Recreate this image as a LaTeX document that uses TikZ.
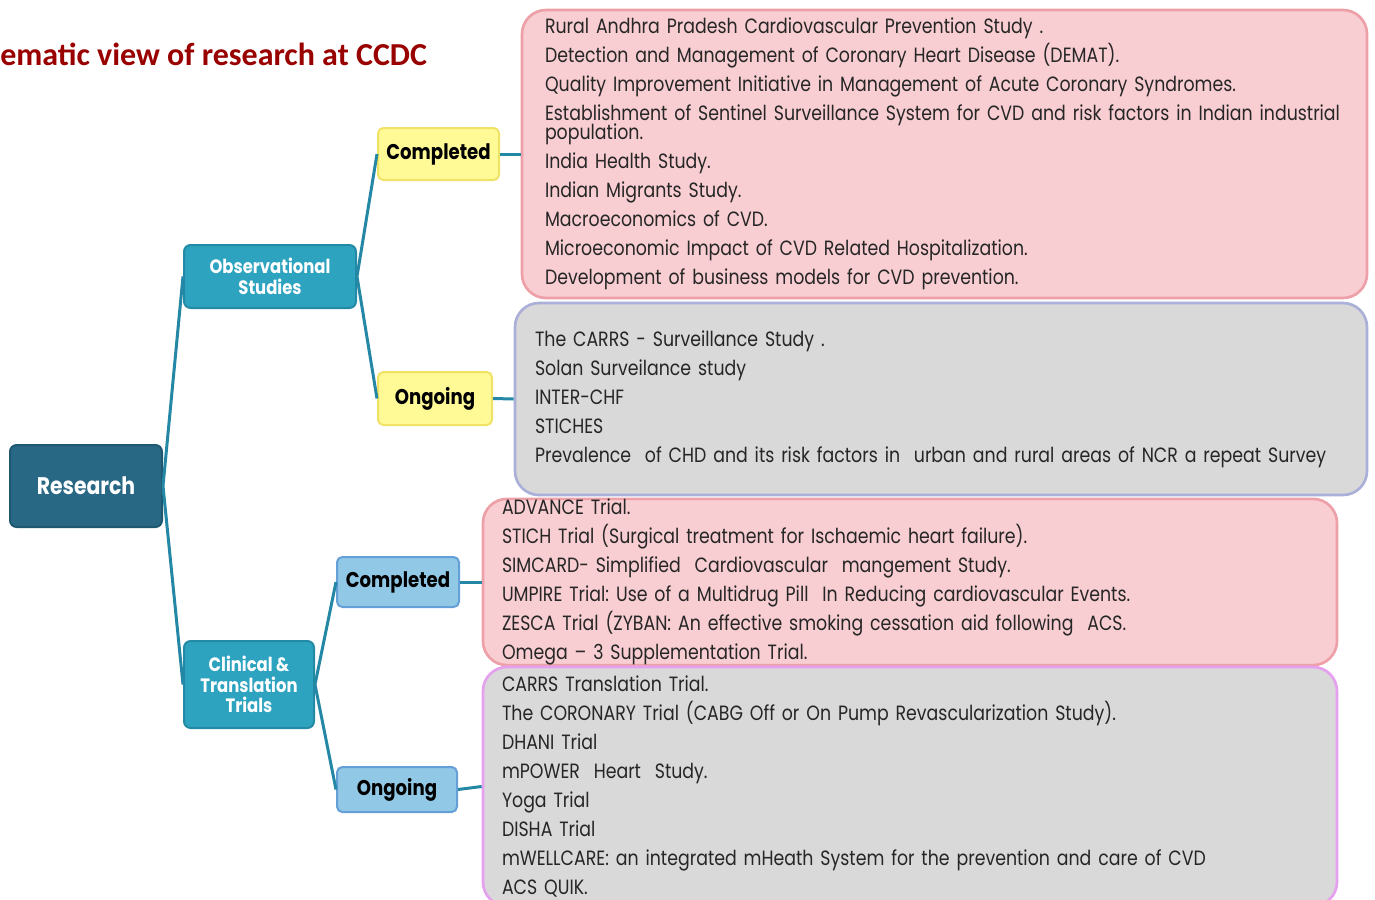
\documentclass[tikz,border=0pt]{standalone}
\usepackage{fontspec}
\setmainfont{Poppins}
\newfontfamily\listfont{Poppins}[FakeStretch=0.84]
\newfontfamily\labelfont{Poppins}[FakeStretch=0.85]
\newfontfamily\titlefont{Carlito}
\definecolor{titlered}{RGB}{153,0,0}
\definecolor{researchfill}{RGB}{41,104,133}
\definecolor{researchline}{RGB}{30,88,112}
\definecolor{studyfill}{RGB}{46,163,192}
\definecolor{studyline}{RGB}{34,138,164}
\definecolor{yellowfill}{RGB}{255,250,150}
\definecolor{yellowline}{RGB}{240,226,100}
\definecolor{bluefill}{RGB}{145,200,230}
\definecolor{blueline}{RGB}{100,160,215}
\definecolor{pinkfill}{RGB}{248,206,210}
\definecolor{pinkline}{RGB}{238,160,168}
\definecolor{greyfill}{RGB}{217,217,217}
\definecolor{lavline}{RGB}{170,176,215}
\definecolor{violetline}{RGB}{230,160,240}
\definecolor{linkteal}{RGB}{35,135,165}

\begin{document}
\begin{tikzpicture}[x=0.75pt,y=0.75pt,yscale=-1,xscale=1,
  topbox/.style={draw, line width=1.5pt, rounded corners=5pt, inner sep=0pt, text=white, align=center},
  statebox/.style={draw, line width=1.5pt, rounded corners=4pt, inner sep=0pt, text=black, align=center,
    font=\labelfont\bfseries\fontsize{16}{19}\selectfont},
  listbox/.style={draw, line width=2pt, rounded corners=18pt, inner ysep=0pt, align=left, text=black!85,
    font=\listfont\fontsize{15.5}{21.75}\selectfont},
  link/.style={draw=linkteal, line width=2.25pt}]
%set diagram at 1375 x 900
\useasboundingbox (0,0) rectangle (1375,900);
\clip (0,0) rectangle (1375,900);

% Title
\node (title) [anchor=west, inner sep=0pt, text=titlered, font=\titlefont\bfseries\fontsize{24}{28}\selectfont] at (0,54) {ematic view of research at CCDC};

% Root
\node (research) [topbox, fill=researchfill, draw=researchline, minimum width=114pt, minimum height=61.5pt,
  font=\labelfont\bfseries\fontsize{18}{21}\selectfont] at (86,486) {Research};
% Branches
\node (obs) [topbox, fill=studyfill, draw=studyline, minimum width=129pt, minimum height=47.25pt,
  font=\labelfont\bfseries\fontsize{14.5}{15.75}\selectfont] at (270,276.5) {Observational\\Studies};
\node (trials) [topbox, fill=studyfill, draw=studyline, minimum width=97.5pt, minimum height=65.25pt,
  font=\labelfont\bfseries\fontsize{14.5}{15.4}\selectfont] at (249,684.5) {Clinical \&\\Translation\\Trials};

% States
\node (obsdone) [statebox, fill=yellowfill, draw=yellowline, minimum width=90.75pt, minimum height=39pt] at (438.5,154) {Completed};
\node (obsnow) [statebox, fill=yellowfill, draw=yellowline, minimum width=85.5pt, minimum height=39.75pt] at (435,398.5) {Ongoing};
\node (trialdone) [statebox, fill=bluefill, draw=blueline, minimum width=91.5pt, minimum height=37.5pt] at (398,582) {Completed};
\node (trialnow) [statebox, fill=bluefill, draw=blueline, minimum width=90pt, minimum height=33.75pt] at (397,789.5) {Ongoing};

% Lists
\node (obsdonelist) [listbox, fill=pinkfill, draw=pinkline, minimum width=633.75pt, minimum height=216pt,
  inner xsep=17.25pt, text width=599.25pt] at (944.5,154) {%
  Rural Andhra Pradesh Cardiovascular Prevention Study .\\
  Detection and Management of Coronary Heart Disease (DEMAT).\\
  Quality Improvement Initiative in Management of Acute Coronary Syndromes.\\
  Establishment of Sentinel Surveillance System for CVD and risk factors in Indian industrial\\[-7.5pt]
  population.\\
  India Health Study.\\
  Indian Migrants Study.\\
  Macroeconomics of CVD.\\
  Microeconomic Impact of CVD Related Hospitalization.\\
  Development of business models for CVD prevention.};
\node (obsnowlist) [listbox, fill=greyfill, draw=lavline, minimum width=639pt, minimum height=144pt,
  inner xsep=15pt, text width=609pt] at (941,399) {%
  The CARRS - Surveillance Study .\\
  Solan Surveilance study\\
  INTER-CHF\\
  STICHES\\
  Prevalence\ \ of CHD and its risk factors in\ \ urban and rural areas of NCR a repeat Survey};
\node (trialdonelist) [listbox, fill=pinkfill, draw=pinkline, minimum width=640.5pt, minimum height=124.5pt,
  inner xsep=14.25pt, text width=612pt] at (910,582) {%
  ADVANCE Trial.\\
  STICH Trial (Surgical treatment for Ischaemic heart failure).\\
  SIMCARD- Simplified\ \ Cardiovascular\ \ mangement Study.\\
  UMPIRE Trial:\ Use of a Multidrug Pill\ \ In Reducing cardiovascular Events.\\
  ZESCA Trial (ZYBAN: An effective smoking cessation aid following\ \ ACS.\\
  Omega – 3 Supplementation Trial.};
\node (trialnowlist) [listbox, fill=greyfill, draw=violetline, minimum width=640.5pt, minimum height=179.25pt,
  inner xsep=14.25pt, text width=612pt] at (910,786.5) {%
  CARRS Translation Trial.\\
  The CORONARY Trial (CABG Off or On Pump Revascularization Study).\\
  DHANI Trial\\
  mPOWER\ \ Heart\ \ Study.\\
  Yoga Trial\\
  DISHA Trial\\
  mWELLCARE: an integrated mHeath System for the prevention and care of CVD\\
  ACS QUIK.};

% Links
\draw [link] (research.east) -- (obs.west);
\draw [link] (research.east) -- (trials.west);
\draw [link] (obs.east) -- (obsdone.west);
\draw [link] (obs.east) -- (obsnow.west);
\draw [link] (trials.east) -- (trialdone.west);
\draw [link] (trials.east) -- (trialnow.west);
\draw [link] (obsdone.east) -- (obsdonelist.west);
\draw [link] (obsnow.east) -- (obsnowlist.west);
\draw [link] (trialdone.east) -- (trialdonelist.west);
\draw [link] (trialnow.east) -- (trialnowlist.west);

\end{tikzpicture}
\end{document}
